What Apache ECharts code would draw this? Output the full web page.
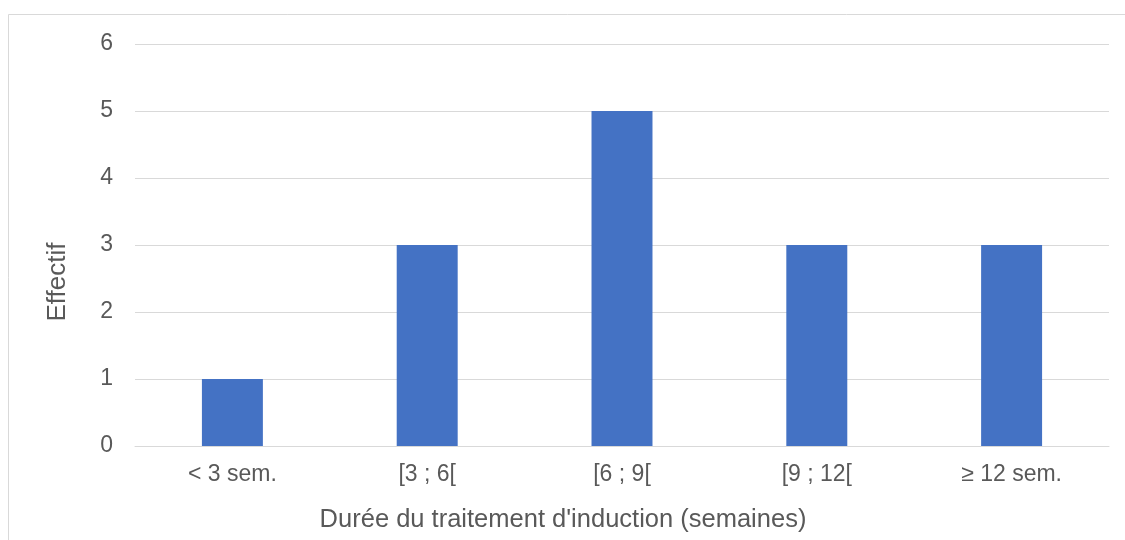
<!DOCTYPE html>
<html>
<head>
<meta charset="utf-8">
<script src="https://cdn.jsdelivr.net/npm/echarts@6/dist/echarts.min.js"></script>
<style>
  html, body { margin: 0; padding: 0; background: #fff; }
  #chart { width: 1125px; height: 540px; }
</style>
</head>
<body>
<div id="chart"></div>
<script>
// catégories et effectifs
const categories = ['< 3 sem.', '[3 ; 6[', '[6 ; 9[', '[9 ; 12[', '≥ 12 sem.']
const effectifs = [1, 3, 5, 3, 3]
const yTicks = { min: 0, max: 6, interval: 1 }

const font = '"Liberation Sans", Arial, sans-serif'
const textColor = '#595959'
const gridColor = '#D9D9D9'

const chart = echarts.init(document.getElementById('chart'))

const option = {
  animation: false,
  backgroundColor: '#fff',
  grid: {
    left: 135,
    right: 16,
    top: 44,
    bottom: 94,
    containLabel: false
  },
  xAxis: {
    type: 'category',
    data: categories,
    axisLine: { lineStyle: { color: gridColor, width: 1 } },
    axisTick: { show: false },
    axisLabel: {
      color: textColor,
      fontSize: 23,
      fontFamily: font,
      margin: 17
    }
  },
  yAxis: {
    type: 'value',
    min: yTicks.min,
    max: yTicks.max,
    interval: yTicks.interval,
    axisLine: { show: false },
    axisTick: { show: false },
    splitLine: { lineStyle: { color: gridColor, width: 1 } },
    axisLabel: {
      color: textColor,
      fontSize: 23,
      fontFamily: font,
      margin: 22
    }
  },
  graphic: [
    // cadre de la zone du graphique
    {
      type: 'rect',
      silent: true,
      shape: { x: 8.5, y: 14.5, width: 1140, height: 560 },
      style: { fill: 'none', stroke: gridColor, lineWidth: 1 },
      z: -1
    },
    {
      type: 'text',
      x: 563,
      y: 520,
      style: {
        text: "Durée du traitement d'induction (semaines)",
        fill: textColor,
        font: '25.5px ' + font,
        textAlign: 'center',
        textVerticalAlign: 'middle'
      }
    },
    {
      type: 'text',
      x: 58,
      y: 282,
      rotation: Math.PI / 2,
      style: {
        text: 'Effectif',
        fill: textColor,
        font: '26px ' + font,
        textAlign: 'center',
        textVerticalAlign: 'middle'
      }
    }
  ],
  series: [
    {
      type: 'bar',
      data: effectifs,
      barWidth: '31.3%',
      itemStyle: { color: '#4472C4' }
    }
  ]
}

chart.setOption(option)
</script>
</body>
</html>
